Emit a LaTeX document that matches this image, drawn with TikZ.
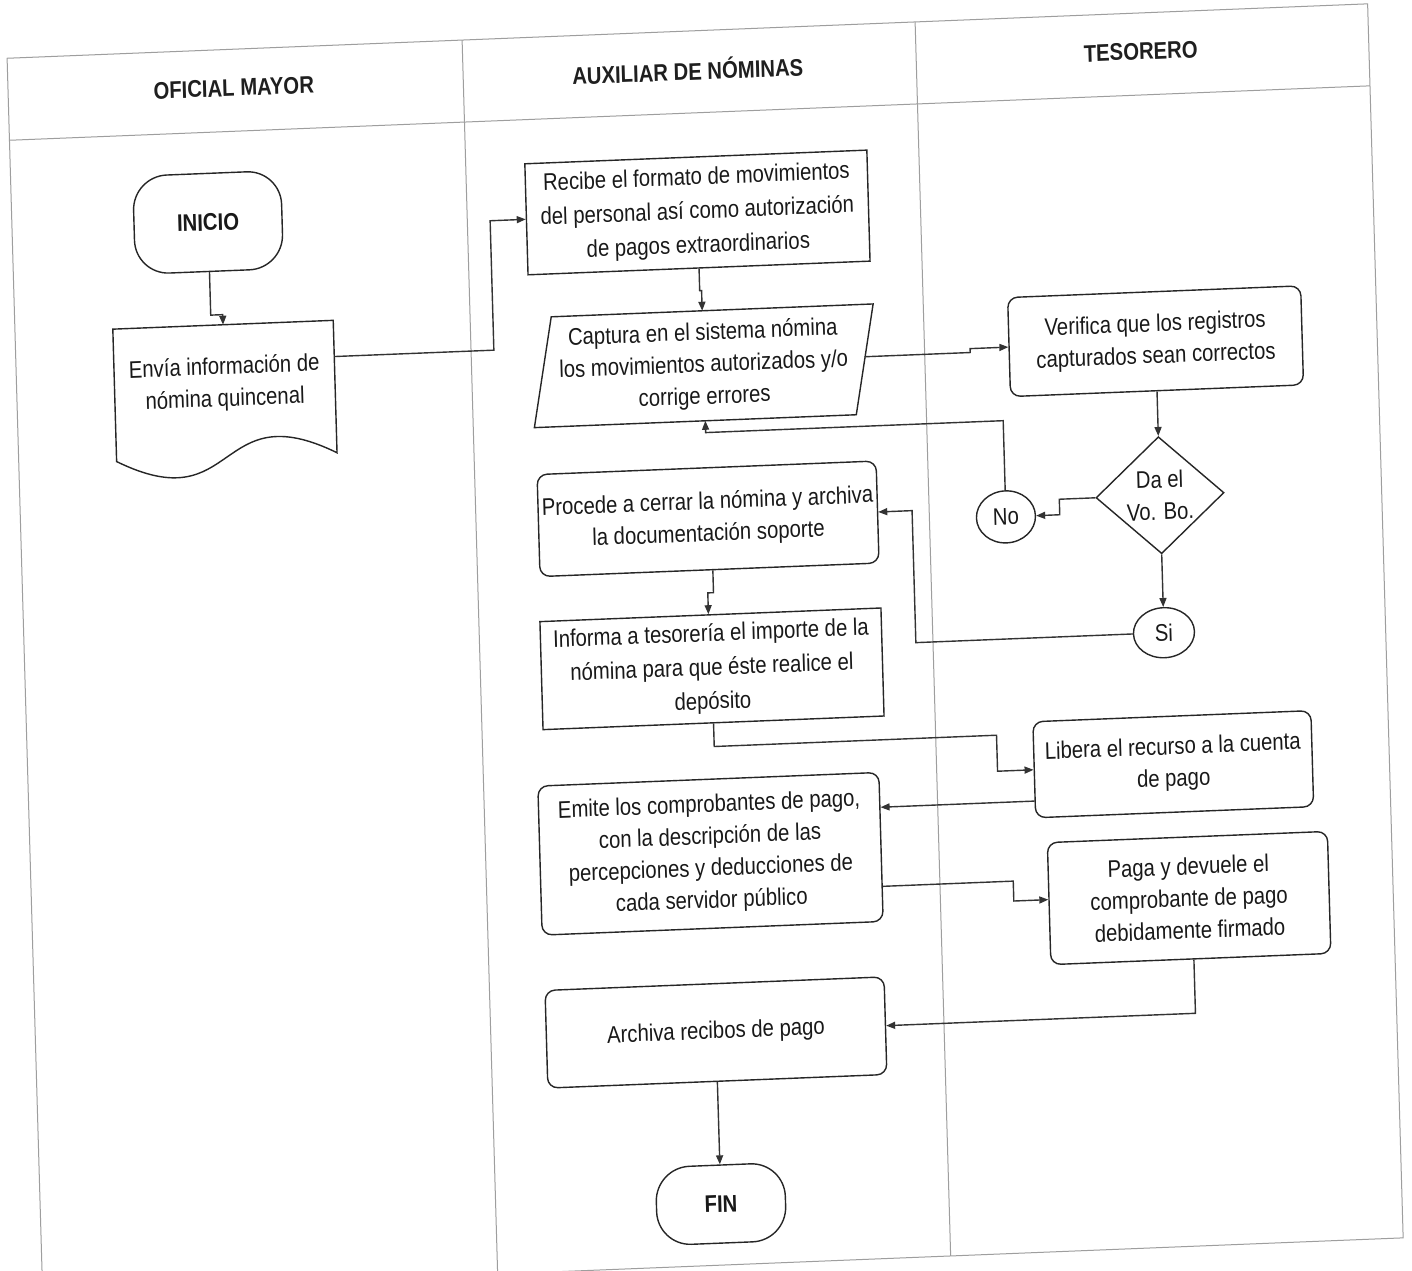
\documentclass[tikz,border=0pt]{standalone}
\usepackage{fontspec}
\setmainfont{Liberation Sans}[FakeStretch=0.845]
\usetikzlibrary{arrows.meta,shapes.geometric}

\begin{document}
\begin{tikzpicture}[x=1pt,y=-1pt,
  font=\fontsize{24}{32}\selectfont,
  lane/.style={draw=black!38, line width=1pt},
  outline/.style={draw=black!85, line width=1.4pt},
  box/.style={outline, inner sep=0pt, align=center, text=black!90},
  rbox/.style={box, rounded corners=10pt},
  term/.style={box, rounded corners=34pt, font=\fontsize{24}{32}\selectfont\bfseries},
  oval/.style={box, ellipse},
  decision/.style={box, diamond},
  ghost/.style={inner sep=0pt, align=center, text=black!90},
  airy/.style={font=\fontsize{24}{34}\selectfont},
  arr/.style={draw=black!80, line width=1.4pt, -{Triangle[length=9pt,width=7pt]}},
  head/.style={font=\fontsize{24}{32}\selectfont\bfseries, text=black!88}
]
\useasboundingbox (0,0) rectangle (1412,1270);
\fill[white] (0,0) rectangle (1412,1270);

\begin{scope}[transform canvas={cm={1,0.040,-0.0288,1,(-18.29pt,-28.24pt)}}]

% swimlane frame
\draw[lane] (24.5,31) rectangle (1385,1265);
\draw[lane] (24.5,113) -- (1385,113);
\draw[lane] (479.5,31) -- (479.5,1265);
\draw[lane] (932.5,31) -- (932.5,1265);

\node[head] (h1) at (250,69.5) {OFICIAL MAYOR};
\node[head] (h2) at (704,69.5) {AUXILIAR DE NÓMINAS};
\node[head] (h3) at (1157,69.5) {TESORERO};

% Oficial Mayor
\node[term, minimum width=148pt, minimum height=98pt] (ini) at (220.5,203) {INICIO};
\node[ghost, minimum width=220pt, minimum height=118pt] (doc) at (232.5,365)
  {Envía información de\\nómina quincenal};
\draw[outline] (doc.north west) -- (doc.north east) -- ([yshift=-14pt]doc.south east)
  .. controls +(-120,-64.5) and +(120,64.5) .. ([yshift=-14pt]doc.south west) -- cycle;

% Auxiliar de nominas
\node[box, airy, minimum width=342pt, minimum height=111pt] (rec) at (709.6,212.6)
  {Recibe el formato de movimientos\\del personal así como autorización\\de pagos extraordinarios};
\node[ghost, minimum width=321.5pt, minimum height=109.6pt] (cap) at (711.5,366)
  {Captura en el sistema nómina\\los movimientos autorizados y/o\\corrige errores};
\draw[outline] ([xshift=10pt]cap.north west) -- ([xshift=10pt]cap.north east)
  -- ([xshift=-10pt]cap.south east) -- ([xshift=-10pt]cap.south west) -- cycle;
\node[rbox, minimum width=339pt, minimum height=102pt] (pro) at (711.4,519)
  {Procede a cerrar la nómina y archiva\\la documentación soporte};
\node[box, airy, minimum width=341pt, minimum height=108pt] (inf) at (711,669)
  {Informa a tesorería el importe de la\\nómina para que éste realice el\\depósito};
\node[rbox, minimum width=341pt, minimum height=149pt] (emi) at (704.2,853.7)
  {Emite los comprobantes de pago,\\con la descripción de las\\percepciones y deducciones de\\cada servidor público};
\node[rbox, minimum width=339pt, minimum height=97.6pt] (arc) at (704.5,1032.4)
  {Archiva recibos de pago};
\node[term, minimum width=129pt, minimum height=78pt] (fin) at (704.6,1204) {FIN};

% Tesorero
\node[rbox, minimum width=293pt, minimum height=99pt] (ver) at (1163.5,359.5)
  {Verifica que los registros\\capturados sean correctos};
\node[decision, minimum width=128pt, minimum height=117pt] (dia) at (1163.5,513.5)
  {Da el\\Vo. Bo.};
\node[oval, minimum width=59pt, minimum height=52pt] (no) at (1009,529) {No};
\node[oval, minimum width=61pt, minimum height=50pt] (si) at (1163.5,651) {Si};
\node[rbox, minimum width=278pt, minimum height=96pt] (lib) at (1169,782.7)
  {Libera el recurso a la cuenta\\de pago};
\node[rbox, minimum width=280pt, minimum height=122pt] (pag) at (1181,917)
  {Paga y devuele el\\comprobante de pago\\debidamente firmado};

% connectors
\draw[arr] (ini.south) -- ++(0,43) -| (doc.north);
\draw[arr] ([yshift=23pt]doc.east) -- ++(159.6,0) |- (rec.west);
\draw[arr] (rec.south) -- ++(0,22) -| (cap.north);
\draw[arr] ([yshift=2.6pt]cap.east) -- ++(105.6,0) |- (ver.west);
\draw[arr] (ver.south) -- (dia.north);
\draw[arr] (dia.west) -- ++(-36,0) |- (no.east);
\draw[arr] (no.north) -- ++(0,-69.5) -| (cap.south);
\draw[arr] (dia.south) -- (si.north);
\draw[arr] (si.west) -- ++(-216.9,0) |- (pro.east);
\draw[arr] ([xshift=3.3pt]pro.south) -- ++(0,22.3) -| ([xshift=-2pt]inf.north);
\draw[arr] (inf.south) -- ++(0,23) -| ([xshift=-36pt]lib.west) -- (lib.west);
\coordinate (libout) at ([yshift=-31.3pt]lib.west);
\draw[arr] (libout) -- (libout -| emi.east);
\draw[arr] ([yshift=-39.4pt]emi.east) -- ++(130.4,0) |- ([yshift=4pt]pag.west);
\draw[arr] ([xshift=3pt]pag.south) |- (arc.east);
\draw[arr] (arc.south) -- (fin.north);

\end{scope}
\end{tikzpicture}
\end{document}
